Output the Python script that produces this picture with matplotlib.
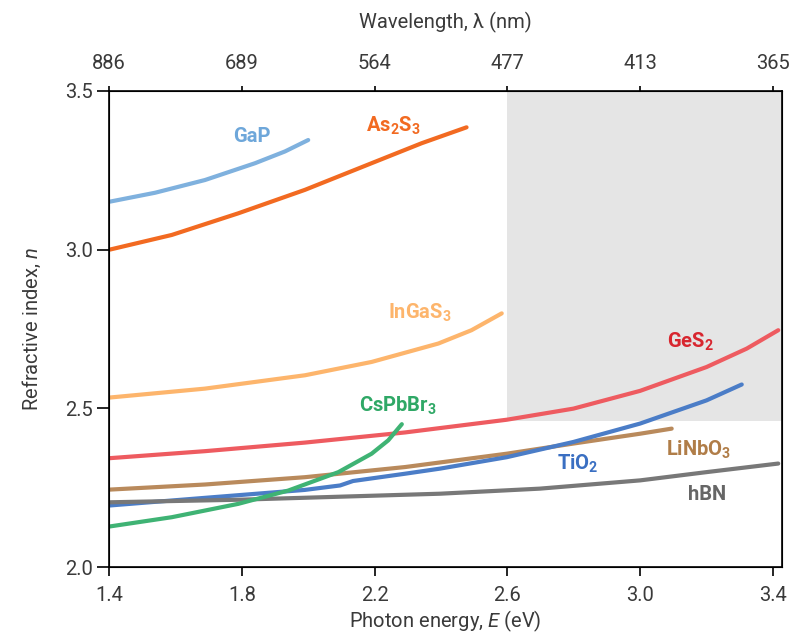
import matplotlib
matplotlib.use("Agg")
import matplotlib.pyplot as plt

plt.rcParams['font.family'] = ['Roboto', 'DejaVu Sans']
plt.rcParams['mathtext.fontset'] = 'custom'
plt.rcParams['mathtext.rm'] = 'Roboto'
plt.rcParams['mathtext.it'] = 'Roboto:style=italic:weight=normal'
plt.rcParams['mathtext.default'] = 'regular'

# photon energy (eV) / refractive index
gap_e = [1.403, 1.539, 1.689, 1.84, 1.93, 2.0]
gap_n = [3.151, 3.179, 3.219, 3.272, 3.309, 3.345]

as2s3_e = [1.403, 1.589, 1.789, 1.99, 2.191, 2.342, 2.477]
as2s3_n = [3.0, 3.046, 3.114, 3.188, 3.272, 3.335, 3.385]

ingas3_e = [1.403, 1.689, 1.99, 2.191, 2.392, 2.492, 2.583]
ingas3_n = [2.534, 2.562, 2.604, 2.646, 2.704, 2.746, 2.799]

ges2_e = [1.403, 1.689, 1.99, 2.292, 2.598, 2.799, 3.0, 3.2, 3.321, 3.416]
ges2_n = [2.343, 2.365, 2.392, 2.424, 2.464, 2.499, 2.555, 2.63, 2.688, 2.746]

cspbbr3_e = [1.403, 1.589, 1.789, 1.94, 2.091, 2.191, 2.241, 2.282]
cspbbr3_n = [2.128, 2.157, 2.199, 2.241, 2.299, 2.357, 2.399, 2.45]

linbo3_e = [1.403, 1.689, 1.99, 2.292, 2.598, 2.799, 3.0, 3.095]
linbo3_n = [2.244, 2.26, 2.283, 2.315, 2.357, 2.389, 2.42, 2.436]

tio2_e = [1.403, 1.689, 1.99, 2.096, 2.135, 2.292, 2.397, 2.598, 2.799, 3.0, 3.2, 3.306]
tio2_n = [2.194, 2.218, 2.243, 2.257, 2.271, 2.294, 2.31, 2.346, 2.394, 2.452, 2.525, 2.575]

hbn_e = [1.403, 1.789, 2.397, 2.698, 3.0, 3.2, 3.416]
hbn_n = [2.204, 2.212, 2.231, 2.247, 2.273, 2.299, 2.326]

x_ticks = [1.4, 1.8, 2.2, 2.6, 3.0, 3.4]
x_ticklabels = ['1.4', '1.8', '2.2', '2.6', '3.0', '3.4']
y_ticks = [2.0, 2.5, 3.0, 3.5]
y_ticklabels = ['2.0', '2.5', '3.0', '3.5']
wl_labels = ['886', '689', '564', '477', '413', '365']

series = [
    (gap_e, gap_n, '#7fb1de', 'GaP', '#6ea7da', 1.83, 3.355),
    (as2s3_e, as2s3_n, '#f26a21', 'As$_2$S$_3$', '#f26a21', 2.255, 3.39),
    (ingas3_e, ingas3_n, '#fdb56c', 'InGaS$_3$', '#fdb56c', 2.337, 2.80),
    (ges2_e, ges2_n, '#ee5b60', 'GeS$_2$', '#d8262f', 3.15, 2.71),
    (linbo3_e, linbo3_n, '#b98a5c', 'LiNbO$_3$', '#b07d48', 3.177, 2.368),
    (tio2_e, tio2_n, '#4b7dc7', 'TiO$_2$', '#3a6fc2', 2.813, 2.326),
    (hbn_e, hbn_n, '#787878', 'hBN', '#666666', 3.202, 2.227),
    (cspbbr3_e, cspbbr3_n, '#3fb374', 'CsPbBr$_3$', '#2fa866', 2.27, 2.508),
]

fig = plt.figure(figsize=(7.93, 6.35), dpi=100)
ax = fig.add_axes([0.1375, 0.107, 0.8485, 0.75])

ax.axvspan(2.6, 3.5, ymin=(2.46 - 2.0) / 1.5, ymax=1.0, color='#e5e5e5', lw=0, zorder=0)

for e, n, c, name, tc, tx, ty in series:
    ax.plot(e, n, color=c, lw=3, solid_capstyle='round', solid_joinstyle='round', zorder=2)
    ax.text(tx, ty, name, color=tc, fontsize=14.5, fontweight='bold',
            ha='center', va='center', zorder=3)

ax.set_xlim(1.4, 3.427)
ax.set_ylim(2.0, 3.5)
ax.set_xticks(x_ticks)
ax.set_xticklabels(x_ticklabels)
ax.set_yticks(y_ticks)
ax.set_yticklabels(y_ticklabels)
ax.tick_params(axis='x', direction='out', length=6.5, width=1.2, pad=7,
               labelsize=14.5, labelcolor='#3a3a3a')
ax.tick_params(axis='y', direction='out', length=8.5, width=1.2, pad=3,
               labelsize=14.5, labelcolor='#3a3a3a')
for sp in ax.spines.values():
    sp.set_linewidth(1.2)

ax.set_xlabel('Photon energy, $\\it{E}$ (eV)', fontsize=14.5, color='#3a3a3a', labelpad=3)
ax.set_ylabel('Refractive index, $\\it{n}$', fontsize=14.5, color='#3a3a3a', labelpad=16)

top = ax.twiny()
top.set_xlim(ax.get_xlim())
top.set_xticks(x_ticks)
top.set_xticklabels(wl_labels)
top.tick_params(axis='x', direction='out', length=3.5, width=1.2, pad=9,
                labelsize=14.5, labelcolor='#3a3a3a')
top.set_xlabel('Wavelength, \u03bb (nm)', fontsize=14.5, color='#3a3a3a', labelpad=19)

fig.savefig('out.png', dpi=100)
